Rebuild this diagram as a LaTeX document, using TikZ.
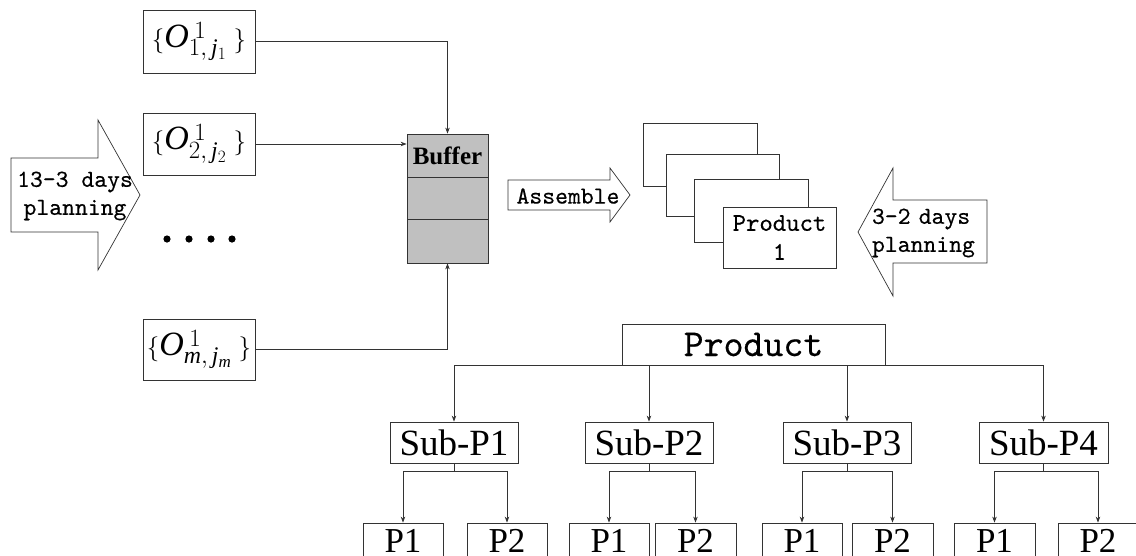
\documentclass[tikz,border=0pt]{standalone}
\usepackage{fontspec}
\setmainfont{Liberation Serif}
\newfontfamily\simmono{lmmono10-regular}[Extension=.otf, FakeBold=0.4]
\usetikzlibrary{arrows.meta}

\definecolor{bufgray}{HTML}{C0C0C0}
\definecolor{ink}{HTML}{333333}

\tikzset{
  box/.style={draw=ink, line width=0.8pt, fill=white, inner sep=0pt},
  bufcell/.style={box, fill=bufgray, minimum width=81pt},
  link/.style={draw=ink, line width=0.8pt},
  arr/.style={link, -{Stealth[length=6pt,width=4.5pt]}},
  blockarrow/.style={draw=ink, line width=0.7pt, fill=white, line join=miter},
  mono/.style={font=\simmono\fontsize{24.5}{28}\selectfont, align=center, inner sep=0pt},
  setbox/.style={box, minimum width=112pt, font=\fontsize{34}{34}\selectfont},
  subbox/.style={box, minimum width=128pt, minimum height=41pt, font=\fontsize{37}{37}\selectfont},
  partbox/.style={box, minimum width=80pt, minimum height=36pt, font=\fontsize{35}{35}\selectfont},
  card/.style={box, minimum width=113pt, minimum height=62pt},
  dot/.style={fill=black},
}

\begin{document}
\begin{tikzpicture}[x=1pt,y=-1pt]
\useasboundingbox (0,0) rectangle (1136,555);
\clip (0,0) rectangle (1136,555);

% ---- operation sets ----
\node[setbox, minimum height=63pt] (o1) at (199,41.5) {$\{\mathit{O}^{\mkern4mu 1}_{1,\,\mathit{j}_1}\;\}$};
\node[setbox, minimum height=62pt] (o2) at (199,144) {$\{\mathit{O}^{\mkern4mu 1}_{2,\,\mathit{j}_2}\;\}$};
\node[setbox, minimum height=61pt] (om) at (199,349.5) {$\{\mathit{O}^{\mkern4mu 1}_{\mathit{m},\,\mathit{j}_{\mathit{m}}}\;\}$};

\fill[dot] (167,239) circle (3.6pt);
\fill[dot] (189,239) circle (3.6pt);
\fill[dot] (211,239) circle (3.6pt);
\fill[dot] (232,239) circle (3.6pt);

% ---- buffer ----
\node[bufcell, minimum height=43pt, font=\bfseries\fontsize{25}{25}\selectfont] (buf1) at (447.5,155.5) {Buffer};
\node[bufcell, minimum height=42pt] (buf2) at (447.5,198) {};
\node[bufcell, minimum height=44pt] (buf3) at (447.5,241) {};

\draw[arr] (o1.east) -| (buf1.north);
\draw[arr] (o2.east) -- (o2.east -| buf1.west);
\draw[arr] (om.east) -| (buf3.south);

% ---- planning block arrows ----
\draw[blockarrow] (11,158) -- (98,158) -- (98,120) -- (140,195) -- (98,270) -- (98,232) -- (11,232) -- cycle;
\node[mono] (plan13) at (75,196) {13-3 days\\planning};

\draw[blockarrow] (508,180) -- (610,180) -- (610,168) -- (630,195) -- (610,222) -- (610,210) -- (508,210) -- cycle;
\node[mono] (asm) at (568,196) {Assemble};

\draw[blockarrow] (987,200) -- (893,200) -- (893,168) -- (858,232) -- (893,296) -- (893,263) -- (987,263) -- cycle;
\node[mono, text width=110pt, align=left] (plan32) at (927,233) {3-2 days\\planning};

% ---- stack of products ----
\node[card, minimum width=114pt, minimum height=63pt] (c1) at (700,154.5) {};
\node[card] (c2) at (722.5,185) {};
\node[card, minimum width=114pt, minimum height=63pt] (c3) at (751,210.5) {};
\node[card, minimum height=61pt, font=\simmono\fontsize{25.5}{29}\selectfont, align=center] (c4) at (779.5,237.5) {Product\\1};

% ---- product structure tree ----
\node[box, minimum width=263pt, minimum height=41pt, font=\simmono\fontsize{38}{38}\selectfont] (prod) at (753.5,344.5) {Product};

\node[subbox] (s1) at (454,442.5) {Sub-P1};
\node[subbox] (s2) at (649,442.5) {Sub-P2};
\node[subbox] (s3) at (847,442.5) {Sub-P3};
\node[subbox, minimum width=129pt] (s4) at (1043.5,442.5) {Sub-P4};

\draw[link] (s1.north |- prod.south) -- (s4.north |- prod.south);
\foreach \s in {s1,s2,s3,s4}
  \draw[arr] (\s.north |- prod.south) -- (\s.north);

\node[partbox] (p11) at (403,541) {P1};
\node[partbox] (p12) at (507,541) {P2};
\node[partbox] (p21) at (609,541) {P1};
\node[partbox, minimum width=81pt] (p22) at (695.5,541) {P2};
\node[partbox] (p31) at (802,541) {P1};
\node[partbox, minimum width=81pt] (p32) at (892.5,541) {P2};
\node[partbox, minimum width=81pt] (p41) at (994.5,541) {P1};
\node[partbox] (p42) at (1098,541) {P2};

\foreach \s/\a/\b in {s1/p11/p12, s2/p21/p22, s3/p31/p32, s4/p41/p42} {
  \coordinate (\s j) at ([yshift=-8pt]\s.south);
  \draw[link] (\s.south) -- (\s j);
  \draw[arr] (\s j) -| (\a.north);
  \draw[arr] (\s j) -| (\b.north);
}
\end{tikzpicture}
\end{document}
